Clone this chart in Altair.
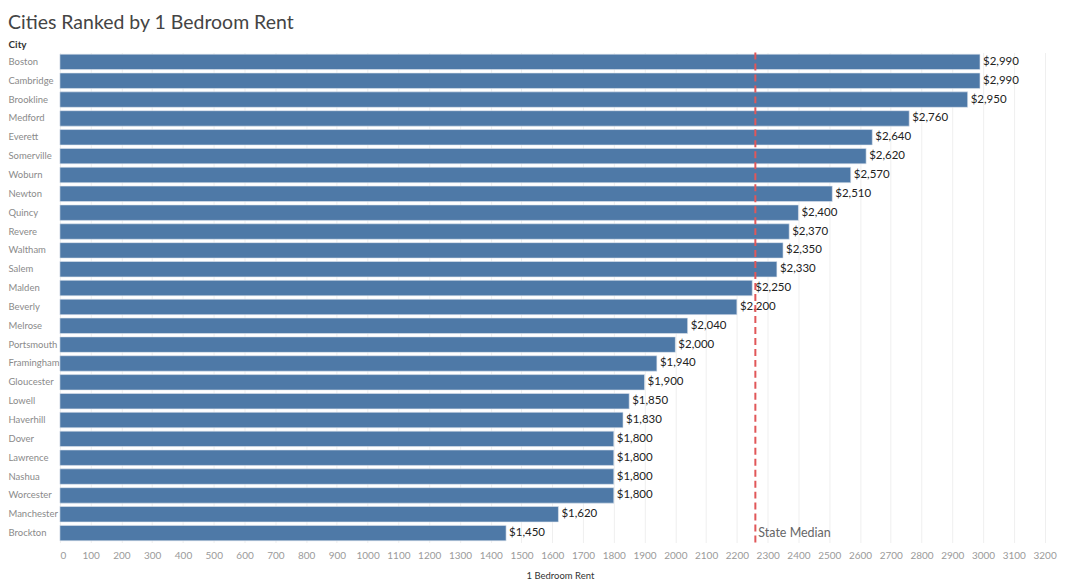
import altair as alt
import pandas as pd

cities = ["Boston", "Cambridge", "Brookline", "Medford", "Everett", "Somerville", "Woburn",
          "Newton", "Quincy", "Revere", "Waltham", "Salem", "Malden", "Beverly", "Melrose",
          "Portsmouth", "Framingham", "Gloucester", "Lowell", "Haverhill", "Dover", "Lawrence",
          "Nashua", "Worcester", "Manchester", "Brockton"]
rents = [2990, 2990, 2950, 2760, 2640, 2620, 2570, 2510, 2400, 2370, 2350, 2330, 2250, 2200,
         2040, 2000, 1940, 1900, 1850, 1830, 1800, 1800, 1800, 1800, 1620, 1450]
state_median = 2260
median_label = "State Median"
x_ticks = list(range(0, 3300, 100))

df = pd.DataFrame({"City": cities, "Rent": rents})
med = pd.DataFrame({"m": [state_median], "label": [median_label], "City": [cities[-1]]})

FONT = "Lato"

y_axis = alt.Axis(title="City", titleAngle=0, titleAlign="left", titleBaseline="bottom",
                  titleX=-52, titleY=-3, titleFontSize=10, titleFontWeight="bold",
                  titleColor="#333333", titleFont=FONT,
                  labelAlign="left", labelPadding=52, ticks=False, domain=False,
                  labelFontSize=9.5, labelColor="#8a8a8a", labelFont=FONT)
y_scale = alt.Scale(paddingInner=0.18, paddingOuter=0.09)

x_axis = alt.Axis(title="1 Bedroom Rent", values=x_ticks, format="d", labelOverlap=False,
                  grid=True, gridColor="#efefef", domain=False, ticks=False,
                  labelFontSize=10, labelColor="#9a9a9a", labelFont=FONT, labelPadding=8,
                  titleFontSize=9.5, titleColor="#333333", titleFont=FONT,
                  titleFontWeight="normal", titlePadding=10)
x_scale = alt.Scale(domain=[0, 3250], nice=False)

def X(field):
    return alt.X(field, scale=x_scale, axis=x_axis, title="1 Bedroom Rent")

def Y():
    return alt.Y("City:N", sort=cities, scale=y_scale, axis=y_axis, title="City")

bars = alt.Chart(df).mark_bar(color="#4e79a7", stroke="#dfe6ee", strokeWidth=0.6).encode(
    x=X("Rent:Q"), y=Y(),
)

labels = alt.Chart(df).mark_text(align="left", dx=3, fontSize=11.5, color="#222222", font=FONT).encode(
    x=X("Rent:Q"), y=Y(),
    text=alt.Text("Rent:Q", format="$,.0f"),
)

rule = alt.Chart(med).mark_rule(color="#e15759", strokeDash=[7, 4], strokeWidth=2).encode(
    x=X("m:Q"),
)

med_text = alt.Chart(med).mark_text(align="left", dx=3, fontSize=12.5, color="#666666", font=FONT).encode(
    x=X("m:Q"), y=Y(),
    text="label:N",
)

chart = alt.layer(bars, labels, rule, med_text).properties(
    width=1002, height=491,
    padding={"left": 0, "top": 4, "right": 0, "bottom": 0},
    title=alt.TitleParams("Cities Ranked by 1 Bedroom Rent", anchor="start", frame="bounds",
                          fontSize=19.5, font=FONT, fontWeight="normal", color="#444444", offset=6),
).configure_view(stroke=None)

chart.save("out.html", embed_options={"renderer": "svg", "actions": False})
